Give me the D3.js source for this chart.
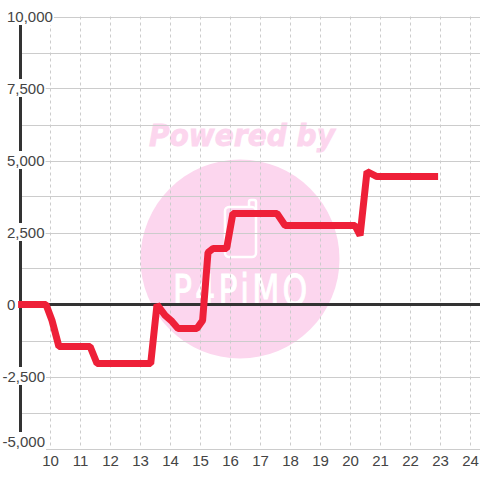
<!DOCTYPE html>
<html>
<head>
<meta charset="utf-8">
<script src="https://cdn.jsdelivr.net/npm/d3@7"></script>
<style>
  html, body { margin: 0; padding: 0; background: #fff; }
  svg { display: block; }
  text { font-family: "Liberation Sans", Arial, sans-serif; }
</style>
</head>
<body>
<div id="chart"></div>
<script>
// -----------
// DATOS
// -----------
const hours = [8.92, 9.85, 10.05, 10.28, 11.32, 11.55, 13.34, 13.55, 13.82, 14.05, 14.25, 14.88, 15.07, 15.25, 15.42, 15.87, 16.08, 17.55, 17.82, 20.15, 20.32, 20.55, 20.88, 22.92];
const balance = [0, 0, -555, -1458, -1458, -2050, -2050, 0, -380, -590, -833, -833, -555, 1805, 1944, 1944, 3160, 3160, 2743, 2743, 2396, 4618, 4444, 4444];
const xTicks = [10, 11, 12, 13, 14, 15, 16, 17, 18, 19, 20, 21, 22, 23, 24];
const yLabels = [10000, 7500, 5000, 2500, 0, -2500, -5000];
const yGrid = [10000, 8750, 7500, 6250, 5000, 3750, 2500, 1250, 0, -1250, -2500, -3750, -5000];

const width = 480;
const height = 480;

const svg = d3.select('#chart').append('svg')
  .attr('width', width)
  .attr('height', height);

const x = d3.scaleLinear().domain([9, 24]).range([20.5, 470.5]);
const y = d3.scaleLinear().domain([-5000, 10000]).range([448.5, 16.5]);

// -----------
// MARCA DE AGUA
// -----------
const pink = '#fcd6ee';
const mark = svg.append('g');
mark.append('text')
  .attr('x', 242)
  .attr('y', 146)
  .attr('text-anchor', 'middle')
  .attr('fill', pink)
  .attr('stroke', pink)
  .attr('stroke-width', 0.8)
  .style('font-family', '"DejaVu Sans"')
  .style('font-weight', 'bold')
  .style('font-style', 'italic')
  .style('font-size', '30px')
  .attr('textLength', 186)
  .attr('lengthAdjust', 'spacingAndGlyphs')
  .text('Powered by');
mark.append('circle')
  .attr('cx', 240)
  .attr('cy', 259)
  .attr('r', 99.5)
  .attr('fill', pink);
// telefono del logo
mark.append('rect')
  .attr('x', 225)
  .attr('y', 207)
  .attr('width', 31)
  .attr('height', 50)
  .attr('rx', 4)
  .attr('fill', 'none')
  .attr('stroke', '#fff')
  .attr('stroke-width', 2.5);
mark.append('path')
  .attr('d', 'M249 207V202a2 2 0 0 1 2 -2h3a2 2 0 0 1 2 2V211')
  .attr('fill', 'none')
  .attr('stroke', '#fff')
  .attr('stroke-width', 2.5);
mark.append('text')
  .attr('transform', 'translate(173,305) scale(1.05,1.45)')
  .attr('fill', '#fff')
  .attr('stroke', '#fff')
  .attr('stroke-width', 0.7)
  .style('font-family', '"DejaVu Sans"')
  .style('font-size', '30px')
  .attr('textLength', 128)
  .attr('lengthAdjust', 'spacing')
  .text('P4PiMO');

// -----------
// REJILLA
// -----------
svg.append('g')
  .selectAll('line')
  .data(yGrid)
  .join('line')
  .attr('x1', x(9))
  .attr('x2', width)
  .attr('y1', (d) => Math.round(y(d)) + 0.5)
  .attr('y2', (d) => Math.round(y(d)) + 0.5)
  .attr('stroke', '#ccc');

svg.append('g')
  .selectAll('line')
  .data(xTicks)
  .join('line')
  .attr('x1', (d) => x(d))
  .attr('x2', (d) => x(d))
  .attr('y1', y(10000))
  .attr('y2', y(-5000))
  .attr('stroke', '#ccc')
  .attr('stroke-dasharray', '3,3');

// ejes
svg.append('line')
  .attr('x1', x(9))
  .attr('x2', x(9))
  .attr('y1', y(10000))
  .attr('y2', y(-5000))
  .attr('stroke', '#333')
  .attr('stroke-width', 3);
svg.append('line')
  .attr('x1', x(9))
  .attr('x2', width)
  .attr('y1', y(0))
  .attr('y2', y(0))
  .attr('stroke', '#333')
  .attr('stroke-width', 3);

// -----------
// SERIE
// -----------
const line = d3.line()
  .x((d) => x(d[0]))
  .y((d) => y(d[1]));

svg.append('path')
  .datum(d3.zip(hours, balance))
  .attr('d', line)
  .attr('fill', 'none')
  .attr('stroke', '#ee2038')
  .attr('stroke-width', 7)
  .attr('stroke-linejoin', 'bevel');

// -----------
// ETIQUETAS
// -----------
const labelColor = '#444';
const yFmt = (d) => d3.format(',')(d).replace('\u2212', '-');

const yGroup = svg.append('g');
yLabels.forEach((v) => {
  const label = yGroup.append('text')
    .attr('x', v < 0 ? 2.5 : 7)
    // la ultima etiqueta queda dentro del grafico
    .attr('y', Math.min(y(v) + 5, 446.5))
    .attr('fill', labelColor)
    .style('font-size', '15px')
    .text(yFmt(v));
  // fondo blanco detras de la etiqueta
  const box = label.node().getBBox();
  yGroup.insert('rect', 'text')
    .attr('x', box.x - 1)
    .attr('y', box.y - 0.5)
    .attr('width', box.width + 2)
    .attr('height', box.height + 1)
    .attr('fill', '#fff');
});

svg.append('g')
  .selectAll('text')
  .data(xTicks)
  .join('text')
  .attr('x', (d) => x(d))
  .attr('y', 466)
  .attr('text-anchor', 'middle')
  .attr('fill', labelColor)
  .style('font-size', '15px')
  .text((d) => d);
</script>
</body>
</html>
